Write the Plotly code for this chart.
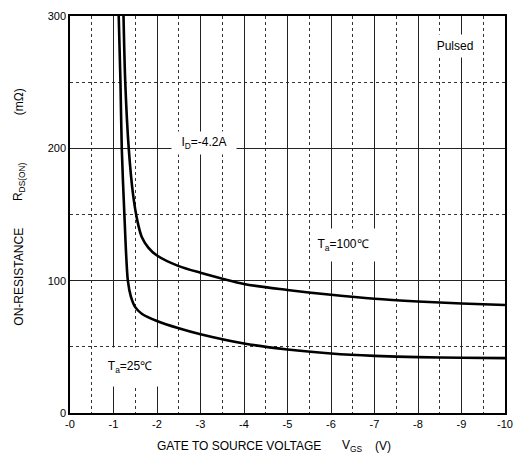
import plotly.graph_objects as go

# Data: gate-source voltage (V, negative) vs on-resistance (mOhm)
vgs_25 = [-1.12, -1.16, -1.19, -1.25, -1.33, -1.40, -1.50, -1.65, -2.0, -2.5, -3.0, -4.0, -5.0, -6.0, -7.0, -8.0, -9.0, -10.0]
rds_25 = [300, 250, 200, 150, 100, 88, 80, 75, 69.5, 64, 59.5, 52.5, 48, 45, 43.2, 42.2, 41.7, 41.5]

vgs_100 = [-1.23, -1.27, -1.35, -1.45, -1.55, -1.65, -1.80, -2.0, -2.5, -3.0, -4.0, -5.0, -6.0, -7.0, -8.0, -9.0, -10.0]
rds_100 = [300, 250, 200, 165, 145, 133, 125, 119, 111, 106, 97.5, 93, 89.3, 86.3, 84.3, 82.8, 81.6]

x_tickvals = [0, -1, -2, -3, -4, -5, -6, -7, -8, -9, -10]
x_ticktext = ["-0", "-1", "-2", "-3", "-4", "-5", "-6", "-7", "-8", "-9", "-10"]
x_minorvals = [-0.5, -1.5, -2.5, -3.5, -4.5, -5.5, -6.5, -7.5, -8.5, -9.5]
y_tickvals = [0, 100, 200, 300]
y_minorvals = [50, 150, 250]

FONT = "Liberation Sans, Arial, sans-serif"

fig = go.Figure()
for xs, ys in [(vgs_25, rds_25), (vgs_100, rds_100)]:
    fig.add_trace(go.Scatter(x=xs, y=ys, mode="lines",
                             line=dict(color="black", width=2.6, shape="spline", smoothing=0.8),
                             showlegend=False, hoverinfo="skip"))

L, R, T, B = 70, 13, 10, 51
W, H = 523, 464
pw, ph = W - L - R, H - T - B

def px(x):
    return (x - L) / pw

def py(y):
    return (H - B - y) / ph

fig.update_layout(
    width=W, height=H,
    margin=dict(l=L, r=R, t=T, b=B),
    plot_bgcolor="white", paper_bgcolor="white",
    font=dict(family=FONT, size=11, color="black"),
    xaxis=dict(range=[0, -10], tickmode="array", tickvals=x_tickvals, ticktext=x_ticktext,
               showgrid=True, gridcolor="#222", gridwidth=1,
               showline=True, linecolor="black", linewidth=1.5, mirror=True,
               ticks="", zeroline=False, tickfont=dict(size=11),
               minor=dict(tickmode="array", tickvals=x_minorvals, showgrid=True,
                          gridcolor="#333", griddash="dot", gridwidth=1, ticks="")),
    yaxis=dict(range=[0, 300], tickmode="array", tickvals=y_tickvals,
               showgrid=True, gridcolor="#222", gridwidth=1,
               showline=True, linecolor="black", linewidth=1.5, mirror=True,
               ticks="", zeroline=False, tickfont=dict(size=11),
               minor=dict(tickmode="array", tickvals=y_minorvals, showgrid=True,
                          gridcolor="#333", griddash="dot", gridwidth=1, ticks="")),
)

# In-plot labels with white boxes that break the grid
labels = [
    ("I<sub>D</sub>=-4.2A", -3.09, 204, 64, 22),
    ("T<sub>a</sub>=100℃", -6.27, 127, 64, 32),
    ("T<sub>a</sub>=25℃", -1.39, 35, 58, 38),
    ("Pulsed", -8.86, 277, 52, 22),
]
for txt, x, y, w, h in labels:
    fig.add_annotation(x=x, y=y, xref="x", yref="y", text=txt, showarrow=False,
                       xanchor="center", yanchor="middle",
                       font=dict(family=FONT, size=12, color="black"),
                       bgcolor="white", width=w, height=h, borderpad=0)

def ann(text, x, y, angle=0, size=12):
    fig.add_annotation(x=px(x), y=py(y), xref="paper", yref="paper", text=text,
                       showarrow=False, textangle=angle, xanchor="center", yanchor="middle",
                       font=dict(family=FONT, size=size, color="black"))

# Axis titles
ann("GATE TO SOURCE VOLTAGE", 241, 446)
ann("V<sub>GS</sub>", 356, 447)
ann("(V)", 387, 446)

ann("ON-RESISTANCE", 18, 275, -90)
ann("R<sub>DS(ON)</sub>", 19, 178, -90)
ann("(mΩ)", 18, 97, -90)

fig.write_html("out.html")
